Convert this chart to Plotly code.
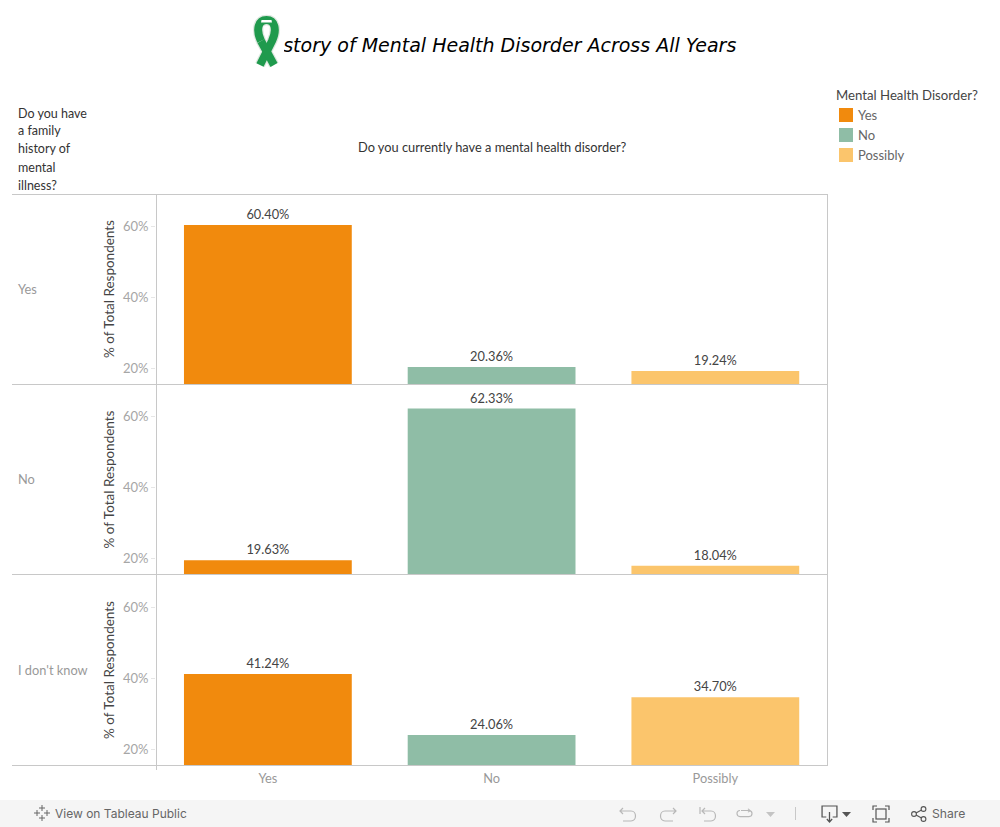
import base64
import plotly.graph_objects as go

categories = ["Yes", "No", "Possibly"]
row_labels = ["Yes", "No", "I don't know"]
row_yes = [60.40, 20.36, 19.24]
row_no = [19.63, 62.33, 18.04]
row_unknown = [41.24, 24.06, 34.70]
colors = ["#F18A0D", "#8FBDA6", "#FBC56C"]
y_ticks = [20, 40, 60]
y_tick_labels = ["20%", "40%", "60%"]
title = "History of Mental Health Disorder Across All Years"
column_title = "Do you currently have a mental health disorder?"
row_title_lines = ["Do you have", "a family", "history of", "mental", "illness?"]
legend_title = "Mental Health Disorder?"
axis_title = "% of Total Respondents"

W, H = 1000, 827
FONT = "Lato"
def px(x): return x / W
def py(y): return 1 - y / H
def svg(s): return "data:image/svg+xml;base64," + base64.b64encode(s.encode()).decode()

rows = [row_yes, row_no, row_unknown]
bands = [(194, 384), (384.5, 574.5), (575, 765)]

fig = go.Figure()
for i, (vals, band) in enumerate(zip(rows, bands)):
    suffix = "" if i == 0 else str(i + 1)
    fig.add_trace(go.Bar(
        x=categories, y=vals, width=0.75, marker=dict(color=colors, line=dict(width=0)),
        text=[f"{v:.2f}%" for v in vals], textposition="outside", cliponaxis=False,
        textfont=dict(family=FONT, size=12.8, color="#444444"), showlegend=False,
        xaxis="x" + suffix, yaxis="y" + suffix))
    fig.layout["xaxis" + suffix] = dict(
        domain=[px(156), px(827.2)], range=[-0.5, 2.5], type="category", anchor="y" + suffix,
        showgrid=False, zeroline=False, showline=False, ticks="", ticklabelstandoff=4,
        showticklabels=(i == 2), tickfont=dict(family=FONT, size=12.8, color="#999999"))
    fig.layout["yaxis" + suffix] = dict(
        domain=[py(band[1]), py(band[0])], range=[15.6, 69.1], anchor="x" + suffix,
        tickvals=y_ticks, ticktext=y_tick_labels, ticks="outside", ticklen=4, tickcolor="#e6e6e6",
        tickfont=dict(family=FONT, size=13, color="#a6a6a6"), showgrid=False, zeroline=False,
        showline=False, title=dict(text=axis_title, standoff=5,
                                   font=dict(family=FONT, size=13.5, color="#444444")))

# The heading is a text trace so that the ribbon image can sit on top of its first letters.
fig.add_trace(go.Scatter(
    x=[0.5], y=[0.5], mode="text", text=["<i>" + title + "</i>"], textposition="middle center",
    textfont=dict(family="DejaVu Sans", size=19, color="#000000"), showlegend=False,
    cliponaxis=False, hoverinfo="skip", xaxis="x4", yaxis="y4"))
fig.layout.xaxis4 = dict(domain=[0, 1], range=[0, 1], visible=False, anchor="y4")
fig.layout.yaxis4 = dict(domain=[py(67), py(27)], range=[0, 1], visible=False, anchor="x4")

line = dict(color="#c8c8c8", width=1)
shapes = [
    dict(type="rect", xref="paper", yref="paper", x0=0, x1=1, y0=py(827), y1=py(800),
         fillcolor="#f5f5f5", line=dict(width=0), layer="below"),
]
for yy in (194.5, 384.5, 574.5, 765.5):
    shapes.append(dict(type="line", xref="paper", yref="paper", x0=px(12), x1=px(828), y0=py(yy), y1=py(yy), line=line))
shapes.append(dict(type="line", xref="paper", yref="paper", x0=px(156.5), x1=px(156.5), y0=py(194), y1=py(770), line=line))
shapes.append(dict(type="line", xref="paper", yref="paper", x0=px(827.5), x1=px(827.5), y0=py(194), y1=py(766), line=line))

def note(text, x, y, size=13, color="#333333", anchor="left", family=FONT):
    shift = -2 if anchor == "left" else 0
    return dict(text=text, x=px(x + shift), y=py(y), xref="paper", yref="paper", showarrow=False,
                xanchor=anchor, yanchor="middle", align=anchor,
                font=dict(family=family, size=size, color=color))

ann = [note(column_title, 492, 147, size=12.8, anchor="center")]
for k, t in enumerate(row_title_lines):
    ann.append(note(t, 18, 113 + 18 * k, size=12.5))
for lab, (a, b) in zip(row_labels, bands):
    ann.append(note(lab, 18, (a + b) / 2, color="#999999", size=12.8))
ann.append(note(legend_title, 836, 95, size=13.2, color="#444444"))
for k, (cat, col) in enumerate(zip(categories, colors)):
    cy = 115 + 20 * k
    shapes.append(dict(type="rect", xref="paper", yref="paper", x0=px(839), x1=px(853),
                       y0=py(cy + 7), y1=py(cy - 7), fillcolor=col, line=dict(width=0)))
    ann.append(note(cat, 858, cy, color="#666666"))
ann.append(note("View on Tableau Public", 55, 813.5, size=12, color="#666666", family="Inter"))
ann.append(note("Share", 932, 813.5, size=12.2, color="#666666", family="Inter"))

ribbon = svg('''<svg xmlns="http://www.w3.org/2000/svg" viewBox="0 0 32 56">
<rect width="32" height="56" fill="#ffffff"/>
<g fill="none" stroke-linejoin="round">
<path d="M22 51 L9 27 C3.5 15 6.5 6 14.5 6 C22.5 6 25.5 15 20 27 L8 51" stroke="#dfe8e1" stroke-width="10.5"/>
<path d="M8 51 L20 27 C25.5 15 22.5 6 14.5 6 C6.5 6 3.5 15 9 27" stroke="#1f9a4d" stroke-width="8"/>
<path d="M22 51 L9 27" stroke="#1f9a4d" stroke-width="8"/>
</g>
<path d="M9.5 6 H19.5 L20 8.5 H9 Z" fill="#ffffff"/>
<path d="M11 12.5 H18 L14.5 22 Z" fill="#ffffff"/>
</svg>''')

logo = svg('''<svg xmlns="http://www.w3.org/2000/svg" viewBox="0 0 18 18"><g stroke="#666" stroke-width="1" fill="none">
<path d="M9 1V7M6 4H12M9 11V17M6 14H12M1 9H7M4 6V12M11 9H17M14 6V12"/></g></svg>''')
I = '<g fill="none" stroke="#b8b8b8" stroke-width="1.2">'
undo = svg(f'<svg xmlns="http://www.w3.org/2000/svg" viewBox="0 0 18 16">{I}<path d="M1 5H12C18 5 18 15 12 15H4M4 2L1 5L4 8"/></g></svg>')
redo = svg(f'<svg xmlns="http://www.w3.org/2000/svg" viewBox="0 0 18 16">{I}<path d="M17 5H6C0 5 0 15 6 15H14M14 2L17 5L14 8"/></g></svg>')
revert = svg(f'<svg xmlns="http://www.w3.org/2000/svg" viewBox="0 0 18 16">{I}<path d="M1 1V8M3 5H12C18 5 18 15 12 15H5M6 2L3 5L6 8"/></g></svg>')
pause = svg(f'<svg xmlns="http://www.w3.org/2000/svg" viewBox="0 0 18 16">{I}<path d="M6 4H14C18 4 18 11 14 11H5C1 11 1 4 5 4M13 2L15 4L13 6"/></g></svg>')
tri_light = svg('<svg xmlns="http://www.w3.org/2000/svg" viewBox="0 0 10 6"><path d="M0 0H10L5 6Z" fill="#c4c4c4"/></svg>')
tri_dark = svg('<svg xmlns="http://www.w3.org/2000/svg" viewBox="0 0 10 6"><path d="M0 0H10L5 6Z" fill="#555"/></svg>')
download = svg('<svg xmlns="http://www.w3.org/2000/svg" viewBox="0 0 16 18"><g fill="none" stroke="#555" stroke-width="1.2"><path d="M5 12H1V1H15V12H11M8 7V16M5.5 14L8 17L10.5 14"/></g></svg>')
full = svg('<svg xmlns="http://www.w3.org/2000/svg" viewBox="0 0 18 18"><g fill="none" stroke="#555" stroke-width="1.2"><path d="M1 5V1H5M13 1H17V5M17 13V17H13M5 17H1V13"/><rect x="4" y="4" width="10" height="10"/></g></svg>')
share = svg('<svg xmlns="http://www.w3.org/2000/svg" viewBox="0 0 16 16"><g fill="none" stroke="#555" stroke-width="1.1"><circle cx="3" cy="8" r="2.4"/><circle cx="12.5" cy="3" r="2.4"/><circle cx="12.5" cy="13" r="2.4"/><path d="M5 7L10.5 4M5 9L10.5 12"/></g></svg>')

def img(src, x, y, w, h):
    return dict(source=src, xref="paper", yref="paper", x=px(x), y=py(y), sizex=w / W, sizey=h / H,
                xanchor="left", yanchor="top", sizing="stretch", layer="above")
images = [
    img(ribbon, 252, 14, 32, 56),
    img(logo, 33, 804, 18, 18),
    img(undo, 619, 806, 18, 16), img(redo, 659, 806, 18, 16), img(revert, 699, 806, 18, 16),
    img(pause, 735, 807, 18, 14), img(tri_light, 766, 812, 9, 5),
    img(download, 821, 805, 17, 18), img(tri_dark, 842, 812, 9, 5),
    img(full, 872, 805, 18, 18), img(share, 911, 806, 16, 16),
]
shapes.append(dict(type="line", xref="paper", yref="paper", x0=px(795.5), x1=px(795.5), y0=py(807), y1=py(820),
                   line=dict(color="#c8c8c8", width=1)))

fig.update_layout(width=W, height=H, autosize=False, margin=dict(l=0, r=0, t=0, b=0),
                  paper_bgcolor="#ffffff", plot_bgcolor="#ffffff", barmode="overlay",
                  showlegend=False, shapes=shapes, annotations=ann, images=images)
fig.write_html("out.html", config=dict(displayModeBar=False),
               post_script="document.body.style.margin='0';document.body.style.overflow='hidden';")
